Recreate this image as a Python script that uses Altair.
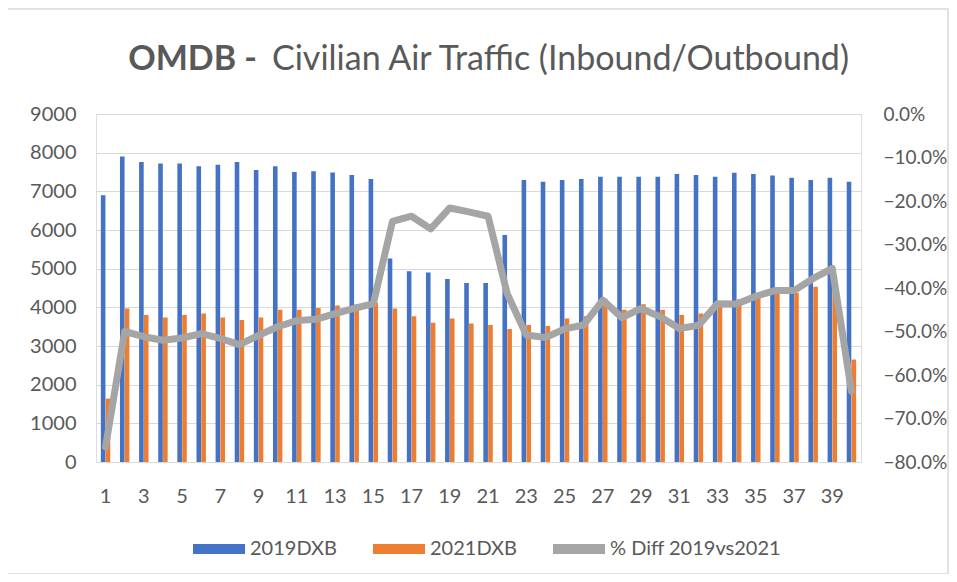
import altair as alt
import pandas as pd

weeks = list(range(1, 41))
v2019 = [6900, 7900, 7760, 7720, 7720, 7650, 7690, 7760, 7550, 7650,
         7500, 7520, 7490, 7420, 7320, 5260, 4930, 4900, 4730, 4630,
         4630, 5870, 7290, 7250, 7290, 7320, 7380, 7380, 7380, 7380,
         7450, 7420, 7380, 7480, 7450, 7410, 7350, 7290, 7350, 7250]
v2021 = [1640, 3970, 3800, 3740, 3800, 3840, 3740, 3670, 3740, 3940,
         3940, 3980, 4050, 4080, 4120, 3970, 3770, 3600, 3710, 3580,
         3540, 3440, 3540, 3520, 3710, 3770, 4220, 3940, 4080, 3940,
         3800, 3840, 4160, 4210, 4330, 4400, 4370, 4530, 4740, 2650]
pct_diff = [-0.765, -0.500, -0.512, -0.520, -0.515, -0.505, -0.516, -0.530, -0.509, -0.489,
            -0.475, -0.472, -0.459, -0.447, -0.436, -0.247, -0.235, -0.264, -0.216, -0.225,
            -0.235, -0.413, -0.508, -0.514, -0.494, -0.485, -0.428, -0.468, -0.447, -0.466,
            -0.493, -0.486, -0.436, -0.437, -0.419, -0.406, -0.406, -0.378, -0.355, -0.637]
series_names = ["2019DXB", "2021DXB", "% Diff 2019vs2021"]
series_colors = ["#4472C4", "#ED7D31", "#A5A5A5"]
title_bold = "OMDB -"
title_rest = "Civilian Air Traffic (Inbound/Outbound)"

FONT = "Lato"
TXT = "#595959"

bars_df = pd.DataFrame({
    "week": weeks * 2,
    "series": [series_names[0]] * 40 + [series_names[1]] * 40,
    "value": v2019 + v2021,
})
line_df = pd.DataFrame({"week": weeks, "pct": pct_diff})


def x_enc():
    return alt.X("week:O", title=None,
                 scale=alt.Scale(paddingInner=0, paddingOuter=0),
                 axis=alt.Axis(values=list(range(1, 41, 2)), labelAngle=0, ticks=False,
                               domain=False, labelPadding=24, labelFontSize=20,
                               labelFont=FONT, labelColor=TXT, grid=False))


color_scale = alt.Scale(domain=series_names, range=series_colors)

bars = alt.Chart(bars_df).mark_bar().encode(
    x=x_enc(),
    xOffset=alt.XOffset("series:N", scale=alt.Scale(paddingInner=0.05, paddingOuter=1),
                        sort=series_names[:2]),
    y=alt.Y("value:Q", title=None,
            scale=alt.Scale(domain=[0, 9000], nice=False),
            axis=alt.Axis(values=list(range(0, 9001, 1000)), format="d", ticks=False,
                          domain=False, labelPadding=20, labelFontSize=20, labelFont=FONT,
                          labelColor=TXT, gridColor="#D9D9D9", gridWidth=1)),
    color=alt.Color("series:N", scale=color_scale, title=None,
                    legend=alt.Legend(orient="none", legendX=97, legendY=409,
                                      direction="horizontal",
                                      symbolType="M-1,-0.19H1V0.19H-1Z",
                                      symbolSize=2704, symbolStrokeWidth=0,
                                      labelFont=FONT, labelFontSize=20,
                                      labelColor=TXT, labelOffset=5,
                                      labelLimit=400, columnPadding=36)),
)

line = alt.Chart(line_df).mark_line(
    color="#A5A5A5", strokeWidth=7, strokeCap="round", strokeJoin="round"
).encode(
    x=x_enc(),
    y=alt.Y("pct:Q", title=None,
            scale=alt.Scale(domain=[-0.8, 0], nice=False),
            axis=alt.Axis(orient="right", format=".1%", values=[i / 10 for i in range(-8, 1)],
                          ticks=False, domain=False, grid=False, labelPadding=22,
                          labelFontSize=19, labelFont=FONT, labelColor=TXT)),
    color=alt.datum(series_names[2]),
)

t1 = alt.Chart(pd.DataFrame({"t": [title_bold]})).mark_text(
    font=FONT, fontSize=34, fontWeight="bold", color=TXT, align="right", baseline="alphabetic"
).encode(text="t:N", x=alt.value(161), y=alt.value(-44))

t2 = alt.Chart(pd.DataFrame({"t": [title_rest]})).mark_text(
    font=FONT, fontSize=34, color=TXT, align="left", baseline="alphabetic"
).encode(text="t:N", x=alt.value(176), y=alt.value(-44))

frame = alt.Chart(pd.DataFrame({"a": [0]})).mark_rect(
    fill=None, stroke="#D9D9D9", strokeWidth=1.5
).encode(x=alt.value(-89), x2=alt.value(852), y=alt.value(-105), y2=alt.value(460))

chart = alt.layer(frame, bars, line, t1, t2).resolve_scale(
    y="independent"
).properties(
    width=765, height=348,
    autosize=alt.AutoSizeParams(type="none"),
    padding={"left": 88, "top": 106, "right": 88, "bottom": 112},
).configure_view(stroke=None).configure(background="white")

chart.save("out.html", embed_options={"renderer": "svg", "actions": False})
